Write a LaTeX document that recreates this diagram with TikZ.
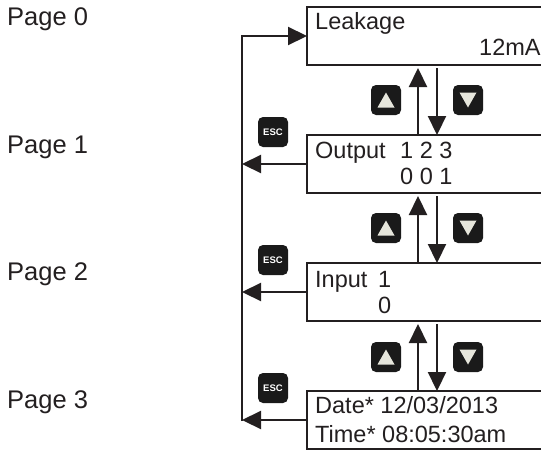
\documentclass[tikz,border=0pt]{standalone}
\usepackage{fontspec}
\setmainfont{Liberation Sans}
\usetikzlibrary{arrows.meta}

\definecolor{ink}{HTML}{231F20}
\definecolor{keyface}{HTML}{1A1A1A}
\definecolor{keyglyph}{HTML}{E6E6DC}

\tikzset{
  screen/.style={draw=ink, line width=2.2pt, anchor=north west, minimum width=260pt,
    minimum height=58pt, inner sep=0pt, outer sep=0pt},
  lcd/.style={anchor=base west, inner sep=0pt, text=ink, font=\fontsize{23.5}{28}\selectfont},
  pagelbl/.style={anchor=base west, inner sep=0pt, text=ink, font=\fontsize{25.5}{30}\selectfont},
  key/.style={fill=keyface, rounded corners=5pt, minimum size=30pt, inner sep=0pt},
  upkey/.style={key, path picture={
      \fill[keyglyph, sharp corners] ([yshift=7.5pt]path picture bounding box.center)
        -- ++(-8.5pt,-15pt) -- ++(17pt,0pt) -- cycle;}},
  dnkey/.style={key, path picture={
      \fill[keyglyph, sharp corners] ([yshift=-7.5pt]path picture bounding box.center)
        -- ++(-8.5pt,15pt) -- ++(17pt,0pt) -- cycle;}},
  esckey/.style={key, text=white, font=\bfseries\fontsize{9.5}{10}\selectfont},
  flow/.style={draw=ink, line width=2.2pt, -{Triangle[length=19pt,width=18pt]}}
}

\begin{document}
\begin{tikzpicture}[x=1pt, y=-1pt]
    \clip (0,0) rectangle (541,453);

    % Page labels
    \node[pagelbl] (pg0) at (7,25) {Page 0};
    \node[pagelbl] (pg1) at (7,153) {Page 1};
    \node[pagelbl] (pg2) at (7,280) {Page 2};
    \node[pagelbl] (pg3) at (7,408) {Page 3};

    % Screens
    \node[screen] (scr0) at (307,7) {};
    \node[screen] (scr1) at (307,135) {};
    \node[screen] (scr2) at (307,263) {};
    \node[screen] (scr3) at (307,391) {};

    % Screen texts
    \node[lcd] (leak) at (315,29) {Leakage};
    \node[lcd] (leakval) at (479,55) {12mA};
    \node[lcd] (outp) at (315,158) {Output};
    \node[lcd] (outch) at (400,158) {1 2 3};
    \node[lcd] (outval) at (400,184) {0 0 1};
    \node[lcd] (inp) at (315,287) {Input};
    \node[lcd] (inch) at (378,287) {1};
    \node[lcd] (inval) at (378,313) {0};
    \node[lcd] (date) at (315,413) {Date* 12/03/2013};
    \node[lcd] (time) at (315,442) {Time* 08:05:30am};

    % Keys
    \node[upkey] (up1) at (386,100) {};
    \node[dnkey] (dn1) at (468,100) {};
    \node[upkey] (up2) at (386,228) {};
    \node[dnkey] (dn2) at (468,228) {};
    \node[upkey] (up3) at (386,357) {};
    \node[dnkey] (dn3) at (468,357) {};
    \node[esckey] (esc1) at (273,132) {ESC};
    \node[esckey] (esc2) at (273,260) {ESC};
    \node[esckey] (esc3) at (273,388) {ESC};

    % Up / down between screens
    \coordinate (upx) at (418,0);
    \coordinate (dnx) at (437,0);
    \draw[flow, shorten >=3pt] (upx |- scr1.north) -- (upx |- scr0.south);
    \draw[flow, shorten <=3pt] (dnx |- scr0.south) -- (dnx |- scr1.north);
    \draw[flow, shorten >=3pt] (upx |- scr2.north) -- (upx |- scr1.south);
    \draw[flow, shorten <=3pt] (dnx |- scr1.south) -- (dnx |- scr2.north);
    \draw[flow, shorten >=3pt] (upx |- scr3.north) -- (upx |- scr2.south);
    \draw[flow, shorten <=3pt] (dnx |- scr2.south) -- (dnx |- scr3.north);

    % ESC back to page 0
    \coordinate (bus) at (242,0);
    \draw[flow] (scr1.west) -- (bus |- scr1.west);
    \draw[flow] (scr2.west) -- (bus |- scr2.west);
    \draw[flow] (scr3.west) -- (bus |- scr3.west);
    \draw[flow] ([yshift=-1.1pt]bus |- scr3.west) -- (bus |- scr0.west) -- (scr0.west);
\end{tikzpicture}
\end{document}
